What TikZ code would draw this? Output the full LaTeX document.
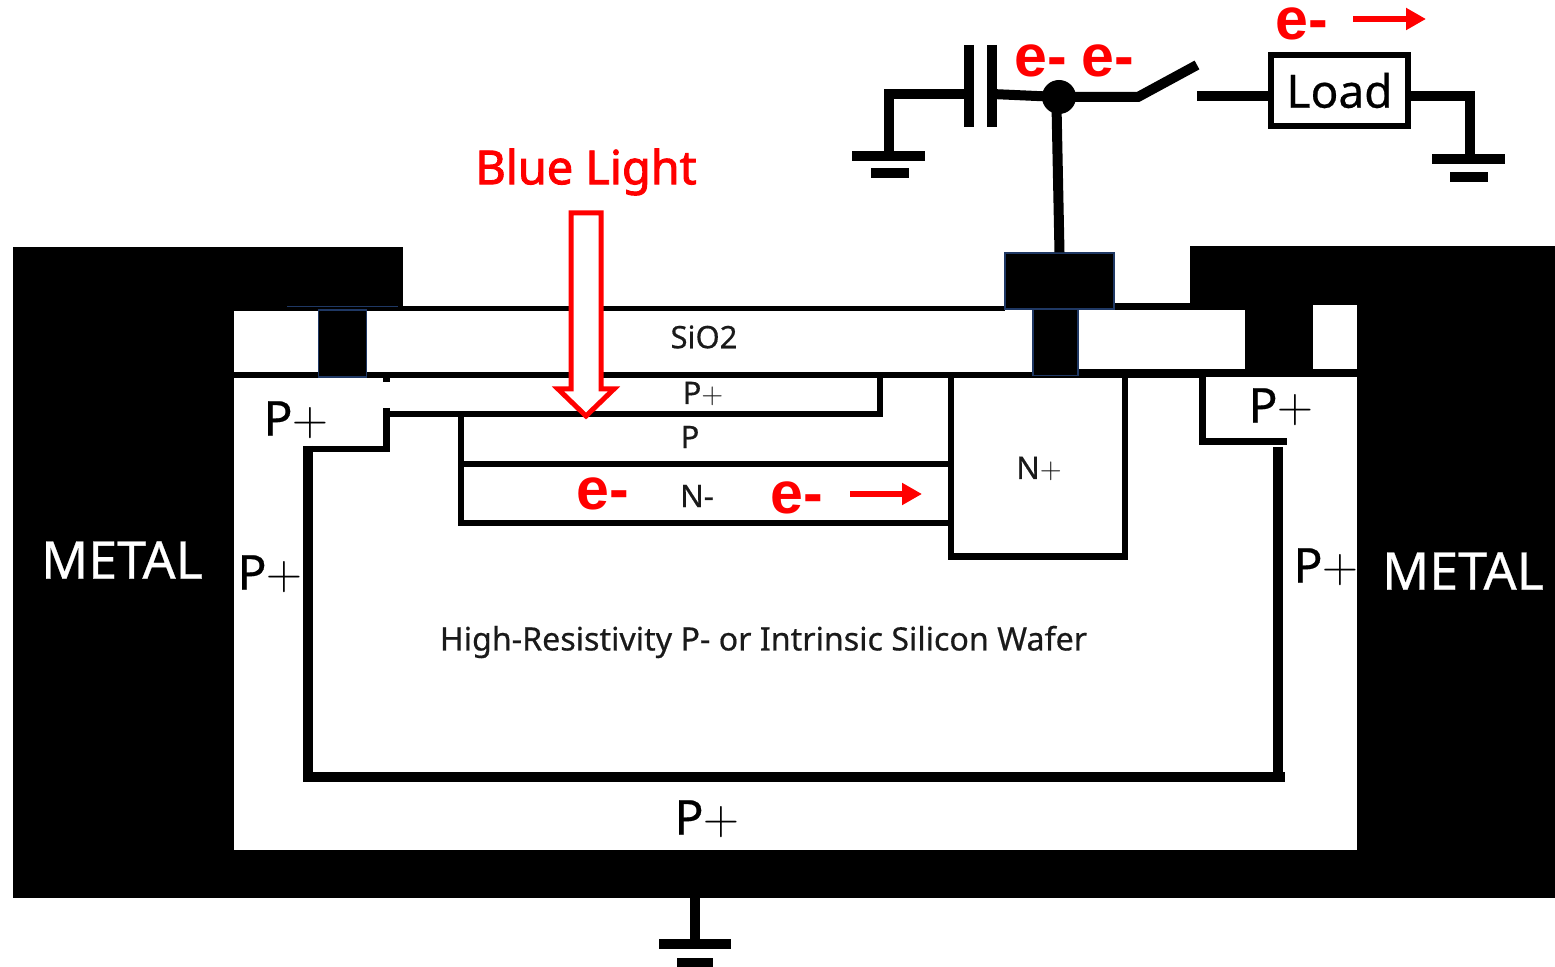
\documentclass[tikz,border=0pt]{standalone}
\usepackage{fontspec}
\setmainfont[FakeBold=0.5]{Noto Sans}
\newfontfamily\heavyface{Liberation Sans}
\newfontfamily\midface[FakeBold=2]{Noto Sans}
\definecolor{edgeblue}{HTML}{1F3864}
\definecolor{labelink}{HTML}{1A1A1A}
\usetikzlibrary{arrows.meta}
\tikzset{
  px/.style={x=0.5pt,y=-0.5pt},
  metal/.style={fill=black,draw=none},
  wire/.style={draw=black,line width=5pt,line cap=butt,line join=miter},
  rule/.style={draw=black,line width=3.2pt,line cap=butt,line join=miter},
  well/.style={draw=black,line width=5pt,line cap=butt,line join=miter},
  via/.style={draw=edgeblue,line width=0.6pt,fill=black},
  biglabel/.style={inner sep=0pt,text=black,font=\fontsize{24}{24}\selectfont},
  smalllabel/.style={inner sep=0pt,text=labelink,font=\fontsize{15.5}{15.5}\selectfont},
  metallabel/.style={inner sep=0pt,text=white,font=\fontsize{26}{26}\selectfont},
  elabel/.style={inner sep=0pt,text=red,font=\heavyface\bfseries\fontsize{29.5}{29.5}\selectfont},
  flow/.style={draw=red,line width=3.4pt,-{Triangle[length=10pt,width=10.5pt]}},
}
\begin{document}
\begin{tikzpicture}[px]
\useasboundingbox (0,0) rectangle (1555,967);
\fill[white] (0,0) rectangle (1555,967);
% metal
\fill[metal] (13,247) rectangle (403,307);
\fill[metal] (13,247) rectangle (234,898);
\fill[metal] (13,850) rectangle (1555,898);
\fill[metal] (1190,246) rectangle (1555,305);
\fill[metal] (1357,246) rectangle (1555,898);
\fill[metal] (1245,303) rectangle (1313,376);
% oxide lines
\fill[metal] (234,306) rectangle (1005,311);
\fill[metal] (1114,303) rectangle (1245,310);
\fill[metal] (234,372) rectangle (1200,378);
\fill[metal] (1078,369) rectangle (1357,377);
\draw[edgeblue,line width=0.5pt] (287,307) -- (398,307);
\fill[metal] (383,378) rectangle (390,382);
% vias and pad
\node[via,minimum width=24pt,minimum height=33.5pt,inner sep=0pt] (viaL) at (342.5,343.5) {};
\node[via,minimum width=22.5pt,minimum height=33pt,inner sep=0pt] (viaR) at (1055.5,342.5) {};
\node[via,minimum width=54.5pt,minimum height=28pt,inner sep=0pt] (pad) at (1059.5,281) {};
% doping outlines
\draw[rule] (386.5,408) -- (386.5,414) -- (880,414) -- (880,378);
\draw[rule] (386.5,414) -- (386.5,449) -- (303,449);
\draw[rule] (950,464) -- (461,464) -- (461,414);
\draw[rule] (950,523) -- (458,523);
\draw[rule] (461,523) -- (461,464);
\draw[rule] (951,378) -- (951,556.5) -- (1125,556.5) -- (1125,378);
\draw[rule] (1202.5,376) -- (1202.5,441.5) -- (1287,441.5);
\draw[well] (308,446) -- (308,777) -- (1285,777);
\draw[well] (1278,447) -- (1278,782);
% light arrow
\draw[red,line width=2.5pt,fill=white,line join=miter]
  (571,213) -- (601,213) -- (601,389) -- (614,389) -- (586,416) -- (558,389) -- (571,389) -- cycle;
% labels
\node[inner sep=0pt,text=red,font=\midface\fontsize{23.4}{23.4}\selectfont] (blue) at (586,172) {Blue Light};
\node[metallabel] (metalL) at (122,560) {METAL};
\node[metallabel] (metalR) at (1463,571) {METAL};
\node[biglabel] (p1) at (296,420) {P$+$};
\node[biglabel] (p2) at (1281,407) {P$+$};
\node[biglabel] (p3) at (270,574) {P$+$};
\node[biglabel] (p4) at (1326,567) {P$+$};
\node[biglabel] (p5) at (707,819) {P$+$};
\node[smalllabel] (sio) at (704,337) {SiO2};
\node[smalllabel] (pa) at (703,394) {P$+$};
\node[smalllabel] (pb) at (690,437) {P};
\node[smalllabel] (nm) at (697,496) {N-};
\node[smalllabel] (np) at (1039,469) {N$+$};
\node[inner sep=0pt,text=labelink,font=\fontsize{16.1}{16.1}\selectfont] (wafer) at (763.5,642) {High-Resistivity P- or Intrinsic Silicon Wafer};
\node[elabel] (e1) at (603,494) {e-};
\node[elabel] (e2) at (797,498) {e-};
\node[elabel] (e3) at (1041,61) {e-};
\node[elabel] (e4) at (1108,61) {e-};
\node[elabel] (e5) at (1302,24) {e-};
% electron flow arrows
\coordinate (f1a) at (850,494); \coordinate (f1b) at (922,494);
\coordinate (f2a) at (1353,19); \coordinate (f2b) at (1426,19);
\draw[flow] (f1a) -- (f1b);
\draw[flow] (f2a) -- (f2b);
% circuit
\node[circle,fill=black,minimum size=17pt,inner sep=0pt] (junction) at (1059,97) {};
\node[draw=black,line width=3pt,fill=white,minimum width=68.5pt,minimum height=35.5pt,inner sep=0pt,font=\fontsize{23}{23}\selectfont] (load) at (1339.5,90.5) {Load};
\coordinate (capT) at (969,45); \coordinate (capB) at (992,45); \coordinate (capBb) at (992,127);
\coordinate (capAw) at (969,94); \coordinate (capBw) at (992,94);
\coordinate (jlow) at (1056.5,105);
\coordinate (gL) at (888.5,94); \coordinate (gLt) at (888.5,156);
\coordinate (gLa) at (852,156); \coordinate (gLb) at (925,156);
\coordinate (gLc) at (871,173); \coordinate (gLd) at (909,173);
\coordinate (hinge) at (1138,97); \coordinate (blade) at (1197,65);
\coordinate (swR) at (1197,96);
\coordinate (gR) at (1469.5,96); \coordinate (gRt) at (1469.5,159);
\coordinate (gRa) at (1432,159); \coordinate (gRb) at (1505,159);
\coordinate (gRc) at (1450,177); \coordinate (gRd) at (1488,177);
\coordinate (gB) at (695,898); \coordinate (gBt) at (695,944);
\coordinate (gBa) at (659,944); \coordinate (gBb) at (731,944);
\coordinate (gBc) at (677,963); \coordinate (gBd) at (713,963);
\draw[wire] (capT) -- (capBb -| capT);
\draw[wire] (capB) -- (capBb);
\draw[wire] (capAw) -- (gL) -- (gLt);
\draw[wire] (gLa) -- (gLb);
\draw[wire] (gLc) -- (gLd);
\draw[wire] (capBw) -- (junction.center) -- (hinge) -- (blade);
\draw[wire] (jlow) -- (pad.north);
\draw[wire] (swR) -- (swR -| load.west);
\draw[wire] (swR -| load.east) -- (gR) -- (gRt);
\draw[wire] (gRa) -- (gRb);
\draw[wire] (gRc) -- (gRd);
\draw[wire] (gB) -- (gBt);
\draw[wire] (gBa) -- (gBb);
\draw[wire] (gBc) -- (gBd);
\end{tikzpicture}
\end{document}
